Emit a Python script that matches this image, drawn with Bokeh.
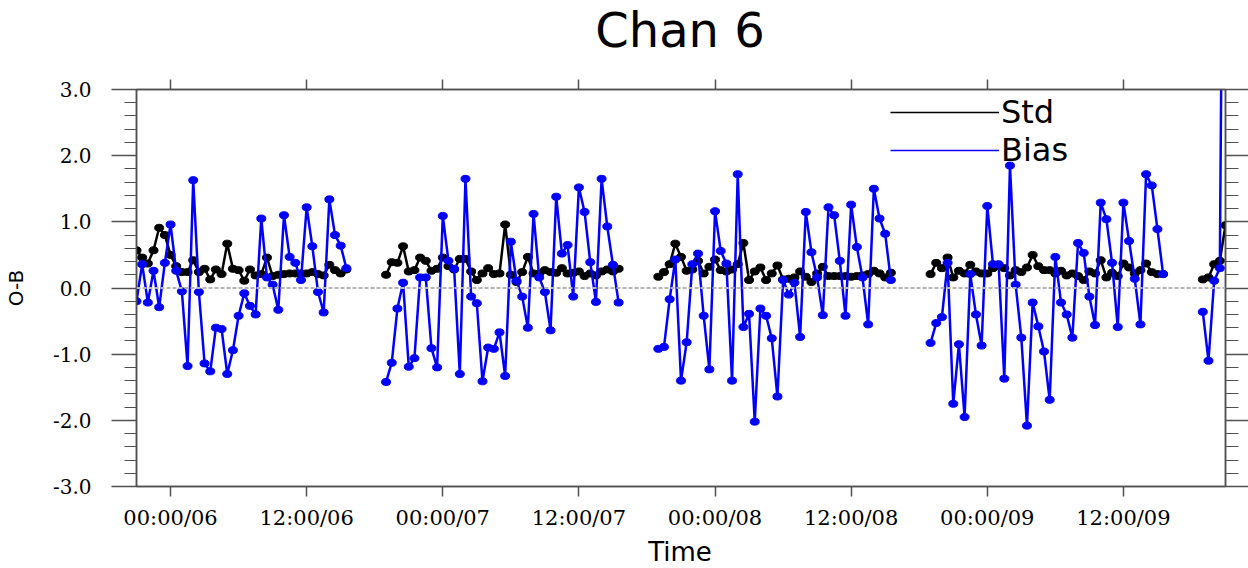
import numpy as np
import pandas as pd
from bokeh.plotting import figure
from bokeh.layouts import column
from bokeh.models import (ColumnDataSource, Range1d, FixedTicker, LinearAxis,
                          Span, Legend, LegendItem, Div)
from bokeh.embed import file_html
from bokeh.resources import INLINE

# ---------------- data ----------------
title_text = "Chan 6"
x_title = "Time"
y_title = "O-B"
ref_time = "2021-01-06 00:00"
tick_times = ["2021-01-06 00:00", "2021-01-06 12:00", "2021-01-07 00:00", "2021-01-07 12:00",
              "2021-01-08 00:00", "2021-01-08 12:00", "2021-01-09 00:00", "2021-01-09 12:00"]
tick_labels = ["00:00/06", "12:00/06", "00:00/07", "12:00/07",
               "00:00/08", "12:00/08", "00:00/09", "12:00/09"]
y_ticks = [-3, -2, -1, 0, 1, 2, 3]
y_tick_labels = ["-3.0", "-2.0", "-1.0", "0.0", "1.0", "2.0", "3.0"]

# start of each continuous block of half-hourly data
seg_starts = ["2021-01-05 21:00", "2021-01-06 19:00", "2021-01-07 19:00",
              "2021-01-08 19:00", "2021-01-09 19:00"]
step = "30min"

std_1 = [0.57, 0.46, 0.37, 0.57, 0.91, 0.80, 0.50, 0.33, 0.24, 0.24, 0.42, 0.24, 0.29,
         0.13, 0.28, 0.21, 0.67, 0.29, 0.27, 0.11, 0.28, 0.19, 0.21, 0.46, 0.18, 0.20,
         0.21, 0.22, 0.22, 0.22, 0.22, 0.24, 0.21, 0.19, 0.35, 0.27, 0.22, 0.28]
bias_1 = [-0.20, 0.36, -0.22, 0.26, -0.29, 0.38, 0.96, 0.26, -0.05, -1.18, 1.63, -0.06,
          -1.14, -1.26, -0.60, -0.62, -1.30, -0.94, -0.42, -0.08, -0.27, -0.40, 1.05, 0.16,
          0.05, -0.33, 1.10, 0.47, 0.38, 0.12, 1.22, 0.63, -0.06, -0.37, 1.34, 0.80, 0.64, 0.30]

std_2 = [0.20, 0.39, 0.38, 0.63, 0.25, 0.27, 0.46, 0.41, 0.26, 0.29, 0.46, 0.33, 0.28,
         0.44, 0.44, 0.25, 0.12, 0.22, 0.30, 0.21, 0.22, 0.96, 0.20, 0.09, 0.24, 0.47,
         0.22, 0.22, 0.27, 0.24, 0.23, 0.30, 0.22, 0.23, 0.25, 0.18, 0.22, 0.19, 0.25,
         0.28, 0.25, 0.29]
bias_2 = [-1.42, -1.13, -0.31, 0.08, -1.19, -1.06, 0.16, 0.16, -0.91, -1.20, 1.09, 0.41,
          0.29, -1.30, 1.65, -0.13, -0.23, -1.41, -0.90, -0.92, -0.67, -1.33, 0.70, 0.11,
          -0.13, -0.60, 1.12, 0.16, -0.06, -0.64, 1.38, 0.52, 0.65, -0.13, 1.52, 1.15,
          0.39, -0.21, 1.65, 0.93, 0.35, -0.22]

std_3 = [0.17, 0.24, 0.36, 0.67, 0.47, 0.26, 0.28, 0.41, 0.22, 0.32, 0.43, 0.27, 0.25,
         0.28, 0.36, 0.68, 0.12, 0.25, 0.31, 0.12, 0.22, 0.34, 0.13, 0.14, 0.16, 0.25,
         0.17, 0.09, 0.22, 0.32, 0.18, 0.18, 0.18, 0.18, 0.17, 0.18, 0.19, 0.21, 0.26,
         0.22, 0.16, 0.23]
bias_3 = [-0.92, -0.89, -0.17, 0.43, -1.40, -0.82, 0.36, 0.52, -0.42, -1.23, 1.16, 0.56,
          0.37, -1.40, 1.72, -0.59, -0.39, -2.02, -0.31, -0.42, -0.76, -1.64, 0.12, -0.10,
          0.08, -0.74, 1.15, 0.54, 0.16, -0.41, 1.22, 1.10, 0.41, -0.42, 1.26, 0.62, 0.16,
          -0.55, 1.50, 1.05, 0.82, 0.12]

std_4 = [0.21, 0.38, 0.30, 0.46, 0.16, 0.26, 0.22, 0.35, 0.25, 0.22, 0.22, 0.30, 0.33,
         0.30, 0.19, 0.27, 0.24, 0.31, 0.50, 0.33, 0.27, 0.27, 0.22, 0.26, 0.19, 0.22,
         0.18, 0.12, 0.25, 0.22, 0.42, 0.16, 0.23, 0.18, 0.37, 0.31, 0.22, 0.27, 0.37,
         0.24, 0.21, 0.21]
bias_4 = [-0.83, -0.53, -0.44, 0.38, -1.75, -0.85, -1.95, 0.21, -0.40, -0.87, 1.24, 0.36,
          0.36, -1.37, 1.85, 0.05, -0.75, -2.08, -0.22, -0.58, -0.96, -1.69, 0.47, -0.22,
          -0.40, -0.75, 0.68, 0.53, -0.13, -0.56, 1.29, 1.04, 0.38, -0.59, 1.29, 0.71,
          0.14, -0.55, 1.72, 1.55, 0.89, 0.21]

std_5 = [0.13, 0.16, 0.36, 0.41, 0.95]
bias_5 = [-0.36, -1.10, 0.11, 0.30, 12.0]

std_segs = [std_1, std_2, std_3, std_4, std_5]
bias_segs = [bias_1, bias_2, bias_3, bias_4, bias_5]

# ---------------- build sources ----------------
ref = pd.Timestamp(ref_time)


def hours(t):
    return (pd.Timestamp(t) - ref).total_seconds() / 3600.0


xs, s_all, b_all = [], [], []
for start, s, b in zip(seg_starts, std_segs, bias_segs):
    times = pd.date_range(start, periods=len(s), freq=step)
    h = [(t - ref).total_seconds() / 3600.0 for t in times]
    if xs:  # break the line between blocks
        xs.append(xs[-1] + 0.5)
        s_all.append(np.nan)
        b_all.append(np.nan)
    xs.extend(h)
    s_all.extend(s)
    b_all.extend(b)

src = ColumnDataSource(dict(x=xs, std=s_all, bias=b_all))
tick_pos = [hours(t) for t in tick_times]

# ---------------- layout sizes ----------------
W, H = 1248, 568
TITLE_H = 60          # html title block above the plot
XLAB_H = 34           # html x-axis title block below the plot
FIG_H = H - TITLE_H - XLAB_H

title_div = Div(
    text=('<div style="width:1090px;margin-left:135px;text-align:center;'
          'font-family:\'DejaVu Sans\';font-size:48px;line-height:normal;'
          'padding-top:2px;color:black;white-space:nowrap;">' + title_text + '</div>'),
    width=W, height=TITLE_H, margin=0)

xlab_div = Div(
    text=('<div style="width:1090px;margin-left:135px;text-align:center;'
          'font-family:\'DejaVu Sans\';font-size:26px;line-height:normal;'
          'padding-top:3px;color:black;white-space:nowrap;">' + x_title + '</div>'),
    width=W, height=XLAB_H, margin=0)

# ---------------- figure ----------------
AX = "#505050"
p = figure(width=W, height=FIG_H, output_backend="svg", toolbar_location=None,
           title_location=None, margin=0,
           x_range=Range1d(xs[0], xs[-1]), y_range=Range1d(-3, 3))
p.min_border_left = 135
p.min_border_right = 23
p.min_border_top = 89 - TITLE_H
p.min_border_bottom = FIG_H - (89 - TITLE_H) - 397
p.xgrid.visible = False
p.ygrid.visible = False
p.outline_line_color = AX
p.outline_line_width = 1.5
p.background_fill_color = "white"
p.border_fill_color = "white"

minor_y = [v / 10.0 for v in range(-30, 31, 2) if v % 10 != 0]
x_ticker = FixedTicker(ticks=tick_pos)
y_ticker = FixedTicker(ticks=y_ticks, minor_ticks=minor_y)

# bottom axis
xa = p.xaxis[0]
xa.ticker = x_ticker
xa.major_label_overrides = {float(k): v for k, v in zip(tick_pos, tick_labels)}
xa.major_tick_out = 10
xa.major_tick_in = 0
xa.minor_tick_out = 0
xa.minor_tick_in = 0
xa.major_label_standoff = 9
xa.major_label_text_font = "DejaVu Serif"
xa.major_label_text_font_size = "21px"
xa.major_label_text_color = "black"
xa.axis_line_color = AX
xa.axis_line_width = 1.5
xa.major_tick_line_color = AX
xa.major_tick_line_width = 1.5

# left axis
ya = p.yaxis[0]
ya.ticker = y_ticker
ya.major_label_overrides = {float(k): v for k, v in zip(y_ticks, y_tick_labels)}
ya.major_tick_out = 25
ya.major_tick_in = 0
ya.minor_tick_out = 12
ya.minor_tick_in = 0
ya.major_label_standoff = 20
ya.major_label_text_font = "DejaVu Serif"
ya.major_label_text_font_size = "20px"
ya.major_label_text_color = "black"
ya.axis_label = y_title
ya.axis_label_text_font = "DejaVu Sans"
ya.axis_label_text_font_size = "20px"
ya.axis_label_text_font_style = "normal"
ya.axis_label_text_color = "black"
ya.axis_label_standoff = 22
ya.axis_line_color = AX
ya.axis_line_width = 1.5
ya.major_tick_line_color = AX
ya.major_tick_line_width = 1.5
ya.minor_tick_line_color = AX
ya.minor_tick_line_width = 1.2

# right axis (ticks only)
ra = LinearAxis(ticker=y_ticker, major_tick_out=23, major_tick_in=0, minor_tick_out=13,
                minor_tick_in=0, major_label_overrides={float(k): "" for k in y_ticks},
                major_label_text_font_size="1px", major_label_standoff=0,
                axis_line_color=AX, axis_line_width=1.5, major_tick_line_color=AX,
                major_tick_line_width=1.5, minor_tick_line_color=AX, minor_tick_line_width=1.2)
p.add_layout(ra, "right")

# top axis (ticks only)
ta = LinearAxis(ticker=x_ticker, major_tick_out=10, major_tick_in=0, minor_tick_out=0,
                minor_tick_in=0, major_label_overrides={float(k): "" for k in tick_pos},
                major_label_text_font_size="1px", major_label_standoff=0,
                axis_line_color=AX, axis_line_width=1.5, major_tick_line_color=AX,
                major_tick_line_width=1.5)
p.add_layout(ta, "above")

# zero reference line
p.add_layout(Span(location=0, dimension="width", line_color="#b4b4b4",
                  line_dash="4 2", line_width=2))

# series
p.line("x", "std", source=src, line_color="black", line_width=2.5)
p.ellipse("x", "std", source=src, width=9, height=7, width_units="screen",
          height_units="screen", fill_color="black", line_color="black")
p.line("x", "bias", source=src, line_color="#0000ff", line_width=2.5)
p.ellipse("x", "bias", source=src, width=9, height=7, width_units="screen",
          height_units="screen", fill_color="#0000ff", line_color="#0000ff")

# legend (thin lines as in the original; sample renderers hold no visible data)
leg_src = ColumnDataSource(dict(x=[np.nan], y=[np.nan]))
leg_std = p.line("x", "y", source=leg_src, line_color="black", line_width=1.5)
leg_bias = p.line("x", "y", source=leg_src, line_color="#0000ff", line_width=1.5)
legend = Legend(items=[LegendItem(label="Std", renderers=[leg_std]),
                       LegendItem(label="Bias", renderers=[leg_bias])],
                location=(754, 317), glyph_width=109, glyph_height=30, label_height=30,
                label_standoff=2, spacing=0, padding=0, margin=0,
                border_line_color=None, background_fill_alpha=0,
                label_text_font="DejaVu Sans", label_text_font_size="32px",
                label_text_color="black")
p.add_layout(legend)

layout = column(title_div, p, xlab_div, spacing=0)
open("out.html", "w").write(file_html(layout, INLINE))
